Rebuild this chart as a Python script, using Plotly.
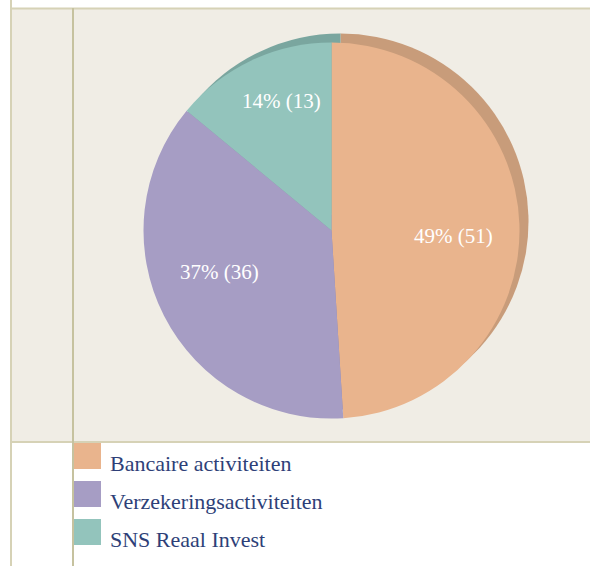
import plotly.graph_objects as go

# ---- data ----
categories = ["Bancaire activiteiten", "Verzekeringsactiviteiten", "SNS Reaal Invest"]
percentages = [49, 37, 14]
amounts = [51, 36, 13]
colors = ["#e9b48d", "#a69dc4", "#93c4bc"]
shadow_colors = ["#c89c7a", "#8e86ab", "#7aa69f"]

W, H = 590, 566

def px(x):
    return x / W

def py(y):
    return 1 - y / H

cx, cy, r = 331.5, 230.5, 188
dx, dy = 9, -9

fig = go.Figure()

# shadow pie
fig.add_trace(go.Pie(
    labels=categories, values=percentages, sort=False, direction="clockwise", rotation=0,
    marker=dict(colors=shadow_colors, line=dict(width=0)),
    textinfo="none", hoverinfo="skip", showlegend=False,
    domain=dict(x=[px(cx + dx - r), px(cx + dx + r)], y=[py(cy + dy + r), py(cy + dy - r)]),
))
# main pie
fig.add_trace(go.Pie(
    labels=categories, values=percentages, sort=False, direction="clockwise", rotation=0,
    marker=dict(colors=colors, line=dict(width=0)),
    textinfo="none", showlegend=False,
    domain=dict(x=[px(cx - r), px(cx + r)], y=[py(cy + r), py(cy - r)]),
))

shapes = []
bg = "#f0ede5"
line_light = "#d6d2b6"
line_dark = "#c6c29f"
shapes.append(dict(type="rect", xref="paper", yref="paper", x0=px(10), x1=px(590), y0=py(442), y1=py(8),
                   fillcolor=bg, line=dict(width=0), layer="below"))
shapes.append(dict(type="line", xref="paper", yref="paper", x0=px(10), x1=px(590), y0=py(8.5), y1=py(8.5),
                   line=dict(color=line_light, width=2)))
shapes.append(dict(type="line", xref="paper", yref="paper", x0=px(10), x1=px(590), y0=py(442), y1=py(442),
                   line=dict(color=line_light, width=2)))
shapes.append(dict(type="line", xref="paper", yref="paper", x0=px(11), x1=px(11), y0=py(0), y1=py(566),
                   line=dict(color=line_light, width=2)))
shapes.append(dict(type="line", xref="paper", yref="paper", x0=px(73), x1=px(73), y0=py(8), y1=py(566),
                   line=dict(color=line_dark, width=2)))

annotations = []
# slice labels
label_pos = [(453, 236), (219, 272), (281, 101)]
for (lx, ly), p, a in zip(label_pos, percentages, amounts):
    annotations.append(dict(x=px(lx), y=py(ly), xref="paper", yref="paper", showarrow=False,
                            text=f"{p}% ({a})", xanchor="center", yanchor="middle",
                            font=dict(family="Liberation Serif", size=21, color="white")))

# custom legend
for i, (cat, col) in enumerate(zip(categories, colors)):
    top = 443 + i * 38
    shapes.append(dict(type="rect", xref="paper", yref="paper", x0=px(74), x1=px(101),
                       y0=py(top + 26), y1=py(top), fillcolor=col, line=dict(width=0)))
    annotations.append(dict(x=px(108), y=py(top + 20), xref="paper", yref="paper", showarrow=False,
                            text=cat, xanchor="left", yanchor="middle",
                            font=dict(family="Liberation Serif", size=22, color="#2e3f78")))

fig.update_layout(
    width=W, height=H, margin=dict(l=0, r=0, t=0, b=0),
    paper_bgcolor="white", plot_bgcolor="white",
    shapes=shapes, annotations=annotations, showlegend=False,
)

fig.write_html("out.html", config={"displayModeBar": False},
               post_script="document.body.style.margin='0';document.body.style.overflow='hidden';")
